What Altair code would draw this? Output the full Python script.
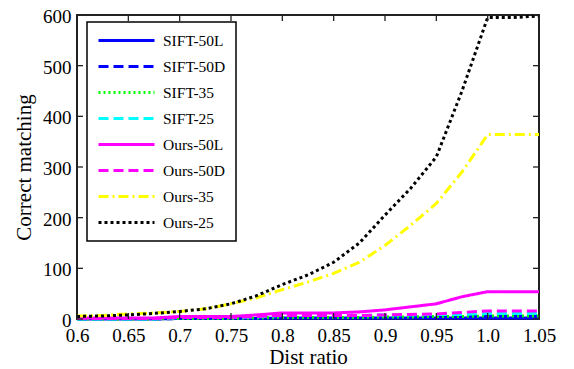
import altair as alt
import pandas as pd

ratios = [0.6, 0.625, 0.65, 0.675, 0.7, 0.725, 0.75, 0.775, 0.8, 0.825,
          0.85, 0.875, 0.9, 0.925, 0.95, 0.975, 1.0, 1.025, 1.05]

series_names = ["SIFT-50L", "SIFT-50D", "SIFT-35", "SIFT-25",
                "Ours-50L", "Ours-50D", "Ours-35", "Ours-25"]

sift_50l = [0, 0, 0, 0, 1, 1, 1, 1, 2, 2, 2, 2, 2, 2, 2, 2, 2, 2, 2]
sift_50d = [0, 0, 0, 0, 1, 1, 1, 2, 4, 4, 4, 4, 5, 5, 6, 6, 7, 7, 7]
sift_35 = [0, 0, 0, 0, 1, 1, 1, 2, 3, 3, 3, 3, 4, 4, 5, 5, 6, 6, 6]
sift_25 = [0, 0, 0, 0, 3, 3, 3, 4, 7, 7, 7, 7, 8, 8, 9, 9, 11, 11, 11]
ours_50l = [2, 2, 2, 2, 5, 5, 5, 8, 12, 12, 12, 14, 18, 24, 30, 44, 54, 54, 54]
ours_50d = [1, 1, 1, 1, 3, 3, 3, 5, 7, 7, 7, 7, 8, 9, 10, 13, 16, 16, 16]
ours_35 = [6, 7, 10, 12, 15, 20, 30, 42, 58, 73, 90, 112, 145, 185, 228, 290, 364, 364, 364]
ours_25 = [5, 6, 8, 11, 15, 20, 30, 46, 68, 87, 112, 150, 205, 258, 320, 450, 595, 595, 598]

series_values = [sift_50l, sift_50d, sift_35, sift_25,
                 ours_50l, ours_50d, ours_35, ours_25]

colors = ["#0000ff", "#0000ff", "#00ff00", "#00ffff",
          "#ff00ff", "#ff00ff", "#ffff00", "#000000"]
dashes = [[1, 0], [10, 5], [2, 3], [10, 5], [1, 0], [10, 5], [10, 4, 2, 4], [3, 3]]

x_ticks = [0.6, 0.65, 0.7, 0.75, 0.8, 0.85, 0.9, 0.95, 1.0, 1.05]
y_ticks = [0, 100, 200, 300, 400, 500, 600]

rows = []
for i, (name, vals) in enumerate(zip(series_names, series_values)):
    for r, v in zip(ratios, vals):
        rows.append({"ratio": r, "count": v, "series": name, "k": i})
df = pd.DataFrame(rows)

W, H = 462, 304
FONT = "Liberation Serif"

x_scale = alt.Scale(domain=[0.6, 1.05], nice=False, zero=False)
y_scale = alt.Scale(domain=[0, 600], nice=False)

legend = alt.Legend(
    title=None, orient="none", legendX=10, legendY=7,
    symbolType="stroke", symbolSize=3136, symbolStrokeWidth=3,
    labelFont=FONT, labelFontSize=15.5, labelColor="black", labelOffset=7,
    labelLimit=200, clipHeight=17, rowPadding=9, padding=10,
    strokeColor="black", fillColor="white", cornerRadius=0,
)

lines = alt.Chart(df).mark_line(strokeWidth=3).encode(
    x=alt.X("ratio:Q", scale=x_scale,
            axis=alt.Axis(values=x_ticks, title="Dist ratio",
                          labelExpr="datum.value == 1 ? '1.0' : format(datum.value, '.2~f')",
                          tickSize=0, domain=False, grid=False, labelPadding=7,
                          labelFlush=False, titlePadding=1)),
    y=alt.Y("count:Q", scale=y_scale,
            axis=alt.Axis(values=y_ticks, title="Correct matching",
                          tickSize=0, domain=False, grid=False, labelPadding=6,
                          labelOffset=1.5, titlePadding=8)),
    color=alt.Color("series:N", scale=alt.Scale(domain=series_names, range=colors),
                    legend=legend),
    strokeDash=alt.StrokeDash("series:N", scale=alt.Scale(domain=series_names, range=dashes),
                              legend=legend),
    order=alt.Order("k:Q"),
)

xt = pd.DataFrame({"ratio": x_ticks})
yt = pd.DataFrame({"count": y_ticks})

bottom_ticks = alt.Chart(xt).mark_rule(color="#222", strokeWidth=1.3).encode(
    x=alt.X("ratio:Q", scale=x_scale), y=alt.value(H), y2=alt.value(H - 6))
top_ticks = alt.Chart(xt).mark_rule(color="#222", strokeWidth=1.3).encode(
    x=alt.X("ratio:Q", scale=x_scale), y=alt.value(0), y2=alt.value(6))
left_ticks = alt.Chart(yt).mark_rule(color="#222", strokeWidth=1.3).encode(
    y=alt.Y("count:Q", scale=y_scale), x=alt.value(0), x2=alt.value(6))
right_ticks = alt.Chart(yt).mark_rule(color="#222", strokeWidth=1.3).encode(
    y=alt.Y("count:Q", scale=y_scale), x=alt.value(W), x2=alt.value(W - 6))

chart = alt.layer(lines, bottom_ticks, top_ticks, left_ticks, right_ticks).properties(
    width=W, height=H,
    autosize=alt.AutoSizeParams(type="none"),
    padding={"left": 69, "top": 7, "right": 27, "bottom": 50},
).configure_view(
    stroke="#222", strokeWidth=2
).configure_axis(
    labelFont=FONT, labelFontSize=19, labelColor="black",
    titleFont=FONT, titleFontSize=21, titleColor="black", titleFontWeight="normal",
).configure_legend(
    strokeWidth=1.5
)

chart.save("out.html", embed_options={"renderer": "svg", "actions": False})
